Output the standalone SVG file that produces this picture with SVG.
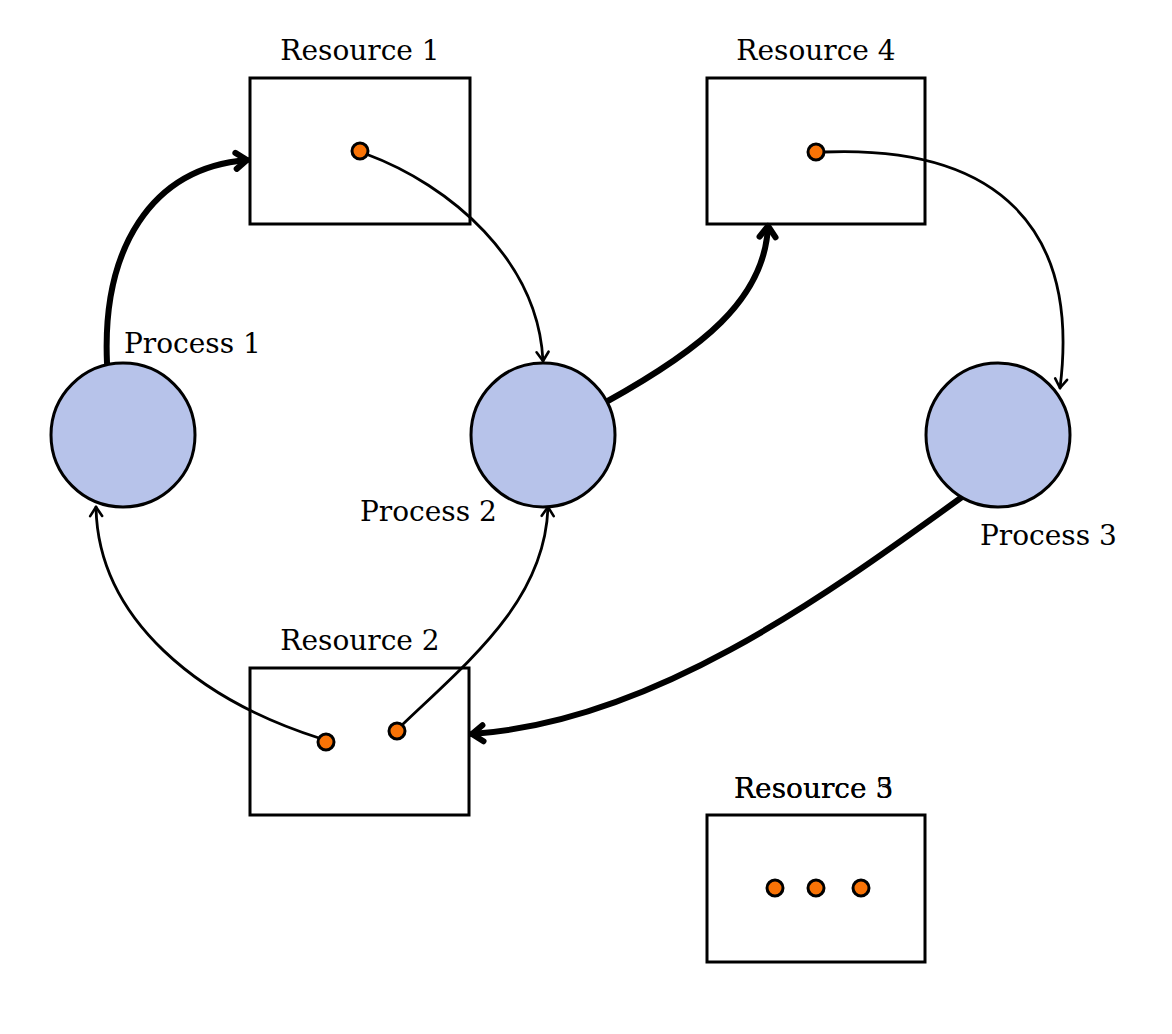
<svg xmlns="http://www.w3.org/2000/svg" width="1172" height="1034" viewBox="0 0 1172 1034">
<style>
.box{fill:none;stroke:#000;stroke-width:3}
.proc{fill:#b7c3ea;stroke:#000;stroke-width:3}
.dot{fill:#f97306;stroke:#000;stroke-width:3}
.lbl{font-family:"DejaVu Serif","Liberation Serif",serif;font-size:28px;fill:#000}
.thin{fill:none;stroke:#000;stroke-width:2.8;stroke-linecap:round;marker-end:url(#ah)}
.thick{fill:none;stroke:#000;stroke-width:6;stroke-linecap:round;marker-end:url(#ahk)}
</style>
<defs>
<marker id="ah" viewBox="-12 -8 14 16" markerWidth="14" markerHeight="16" refX="0" refY="0" orient="auto" markerUnits="userSpaceOnUse">
<path d="M-9,-6 L0,0 L-9,6" fill="none" stroke="#000" stroke-width="2.6" stroke-linecap="round" stroke-linejoin="round"/>
</marker>
<marker id="ahk" viewBox="-16 -12 20 24" markerWidth="20" markerHeight="24" refX="0" refY="0" orient="auto" markerUnits="userSpaceOnUse">
<path d="M-11,-8 L0,0 L-11,8" fill="none" stroke="#000" stroke-width="6" stroke-linecap="round" stroke-linejoin="round"/>
</marker>
</defs>
<rect width="1172" height="1034" fill="#fff"/>
<g id="resource1">
<rect class="box" x="250" y="78" width="220" height="146"/>
<text class="lbl" x="360" y="60" text-anchor="middle">Resource 1</text>
</g>
<g id="resource4">
<rect class="box" x="707" y="78" width="218" height="146"/>
<text class="lbl" x="816" y="60" text-anchor="middle">Resource 4</text>
</g>
<g id="resource2">
<rect class="box" x="250" y="668" width="219" height="147"/>
<text class="lbl" x="360" y="650" text-anchor="middle">Resource 2</text>
</g>
<g id="resource3">
<rect class="box" x="707" y="815" width="218" height="147"/>
<text class="lbl" x="734" y="798">Resource 3</text>
<text class="lbl" x="734" y="798">Resource 5</text>
</g>
<g id="connectors">
<path class="thick" d="M107,363 C102,250 150,168 247,160"/>
<path class="thin" d="M366,154 C450,185 538,260 543,361"/>
<path class="thick" d="M606,402 C700,350 765,300 768,226"/>
<path class="thin" d="M824,152 C1000,145 1080,230 1060,388"/>
<path class="thick" d="M962,497 C820,600 650,722 472,734"/>
<path class="thin" d="M319,738 C200,700 98,620 96,507"/>
<path class="thin" d="M402,725 C470,660 545,600 548,507"/>
</g>
<g id="dots">
<circle class="dot" cx="360" cy="151" r="8"/>
<circle class="dot" cx="816" cy="152" r="8"/>
<circle class="dot" cx="326" cy="742" r="8"/>
<circle class="dot" cx="397" cy="731" r="8"/>
<circle class="dot" cx="775" cy="888" r="8"/>
<circle class="dot" cx="816" cy="888" r="8"/>
<circle class="dot" cx="861" cy="888" r="8"/>
</g>
<g id="process1">
<circle class="proc" cx="123" cy="435" r="72"/>
<text class="lbl" x="124" y="353">Process 1</text>
</g>
<g id="process2">
<circle class="proc" cx="543" cy="435" r="72"/>
<text class="lbl" x="360" y="521">Process 2</text>
</g>
<g id="process3">
<circle class="proc" cx="998" cy="435" r="72"/>
<text class="lbl" x="980" y="545">Process 3</text>
</g>
</svg>
